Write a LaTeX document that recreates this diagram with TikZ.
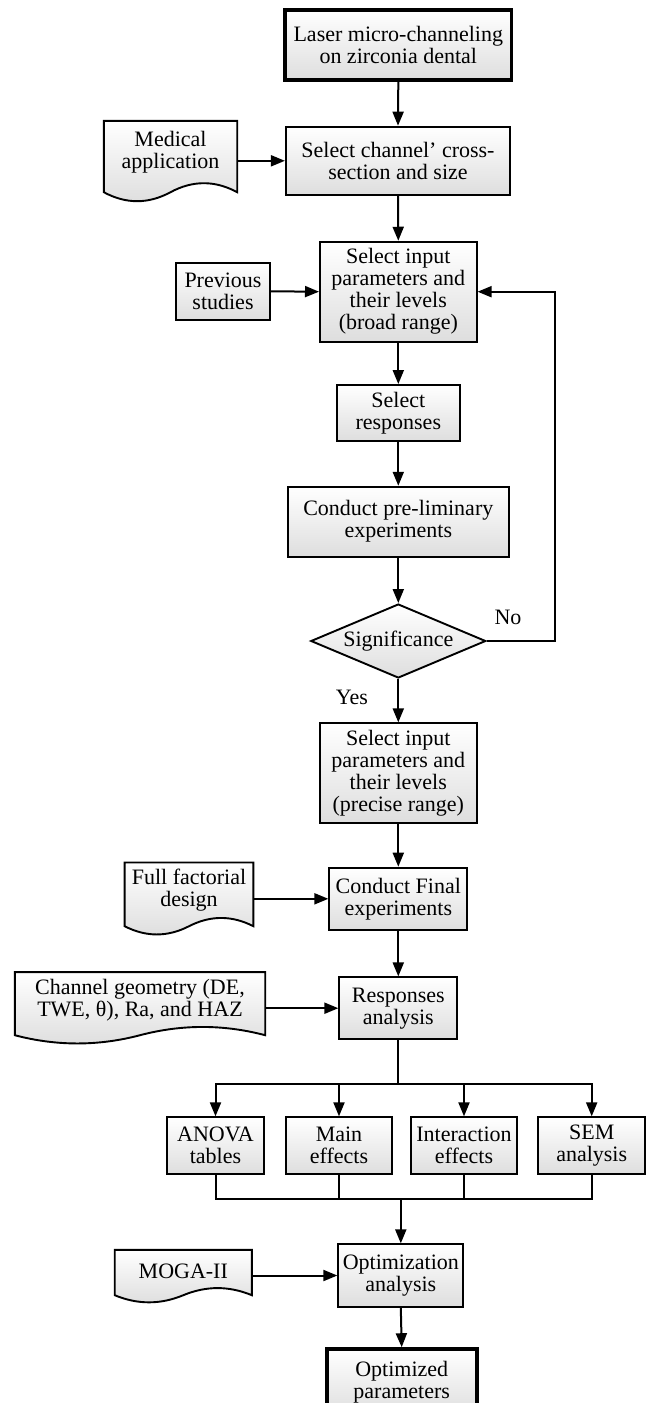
\documentclass[tikz,border=0pt]{standalone}
\usepackage{fontspec}
\setmainfont{Liberation Serif}
\usetikzlibrary{arrows.meta,shapes.geometric,calc,backgrounds}
\newcommand\docpath[3]{%
 \path[docshape] (#1.north west) -- (#1.north east) -- ($(#1.south east)+(0,#3)$)
 .. controls ($(#1.south east)!0.1667!(#1.south west)+(0,#3-#2)$) and ($(#1.south east)!0.3333!(#1.south west)+(0,#3-#2)$) .. ($(#1.south east)!0.5!(#1.south west)+(0,#3)$)
 .. controls ($(#1.south east)!0.6667!(#1.south west)+(0,#3+#2)$) and ($(#1.south east)!0.8333!(#1.south west)+(0,#3+#2)$) .. ($(#1.south west)+(0,#3)$) -- cycle;}
\begin{document}
\begin{tikzpicture}[x=1pt,y=-1pt,
 txt/.style={font=\fontsize{22}{22}\selectfont},
 box/.style={txt, draw, line width=1.9pt, top color=white, bottom color=black!13, align=center, inner sep=0pt},
 thickbox/.style={box, line width=3.6pt},
 doc/.style={txt, align=center, inner sep=0pt},
 docshape/.style={draw, line width=1.9pt, top color=white, bottom color=black!13},
 arr/.style={line width=2pt, -{Triangle[length=14pt,width=11pt]}},
 ln/.style={line width=2pt},
 lab/.style={txt, inner sep=0pt}
]
\useasboundingbox (0,0) rectangle (646,1403);

\node[thickbox, minimum width=226.7pt, minimum height=70pt] (laser) at (398.3,45) {Laser micro-channeling\\on zirconia dental};
\node[box, minimum width=224.3pt, minimum height=68.3pt] (chan) at (398,160.8) {Select channel’ cross-\\section and size};
\node[doc, minimum width=133pt, minimum height=62pt] (med) at (170.5,152) {Medical\\application};
\node[box, minimum width=156.7pt, minimum height=100pt] (broad) at (398.3,291.7) {Select input\\parameters and\\their levels\\(broad range)};
\node[box, minimum width=94pt, minimum height=57.3pt] (prev) at (223,291.3) {Previous\\studies};
\node[box, minimum width=123.3pt, minimum height=56pt] (resp) at (398.3,413) {Select\\responses};
\node[box, minimum width=221.3pt, minimum height=70pt] (pre) at (398.3,521.7) {Conduct pre-liminary\\experiments};
\node[box, diamond, shape aspect=2.35, minimum width=175pt, minimum height=74pt] (sig) at (398.3,641) {Significance};
\node[lab] (no) at (508,617) {No};
\node[lab] (yes) at (352,697) {Yes};
\node[box, minimum width=156.7pt, minimum height=100pt] (prec) at (398.3,773.3) {Select input\\parameters and\\their levels\\(precise range)};
\node[doc, minimum width=128.3pt, minimum height=54.6pt] (ff) at (189,890) {Full factorial\\design};
\node[box, minimum width=138pt, minimum height=62.3pt] (final) at (398.3,898.8) {Conduct Final\\experiments};
\node[doc, minimum width=250pt, minimum height=55.4pt] (chg) at (140,1000) {Channel geometry (DE,\\TWE, θ), Ra, and HAZ};
\node[box, minimum width=118pt, minimum height=61.7pt] (respa) at (398.3,1008.2) {Responses\\analysis};
\node[box, minimum width=97.6pt, minimum height=57pt] (anova) at (215.5,1145.8) {ANOVA\\tables};
\node[box, minimum width=106.6pt, minimum height=57pt] (mainef) at (339,1145.8) {Main\\effects};
\node[box, minimum width=106.6pt, minimum height=57pt] (inter) at (464,1145.8) {Interaction\\effects};
\node[box, minimum width=106.7pt, minimum height=57pt] (sem) at (591.7,1145.8) {SEM\\analysis};
\node[box, minimum width=125pt, minimum height=62.4pt] (opt) at (400.8,1275.5) {Optimization\\analysis};
\node[doc, minimum width=136.7pt, minimum height=43.4pt] (moga) at (183.3,1271.7) {MOGA-II};
\node[thickbox, minimum width=150pt, minimum height=67pt] (optp) at (401.7,1382.5) {Optimized\\parameters};

\begin{pgfonlayer}{background}
\docpath{med}{12}{9}
\docpath{ff}{11}{8.7}
\docpath{chg}{11}{7.3}
\docpath{moga}{9.5}{1.6}
\end{pgfonlayer}

\coordinate (fb) at (555,291.7);
\coordinate (bry) at (0,1084.3);
\coordinate (mgy) at (0,1199.3);
\coordinate (br) at (respa.south |- bry);
\coordinate (mg) at (opt.north |- mgy);

\draw[arr] (laser.south) -- (chan.north);
\draw[arr] (med.east |- chan.west) -- (chan.west);
\draw[arr] (chan.south) -- (broad.north);
\draw[arr] (prev.east) -- (broad.west);
\draw[arr] (broad.south) -- (resp.north);
\draw[arr] (resp.south) -- (pre.north);
\draw[arr] (pre.south) -- (sig.north);
\draw[arr] (sig.east) -| (fb) -- (broad.east);
\draw[arr] (sig.south) -- (prec.north);
\draw[arr] (prec.south) -- (final.north);
\draw[arr] (ff.east |- final.west) -- (final.west);
\draw[arr] (final.south) -- (respa.north);
\draw[arr] (chg.east |- respa.west) -- (respa.west);
\draw[ln] (respa.south) -- (br);
\draw[arr] (br) -| (anova.north);
\draw[arr] (br) -| (mainef.north);
\draw[arr] (br) -| (inter.north);
\draw[arr] (br) -| (sem.north);
\draw[ln] (anova.south) |- (mg);
\draw[ln] (mainef.south) |- (mg);
\draw[ln] (inter.south) |- (mg);
\draw[ln] (sem.south) |- (mg);
\draw[arr] (mg) -- (opt.north);
\draw[arr] (moga.east |- opt.west) -- (opt.west);
\draw[arr] (opt.south) -- (optp.north);
\end{tikzpicture}
\end{document}
